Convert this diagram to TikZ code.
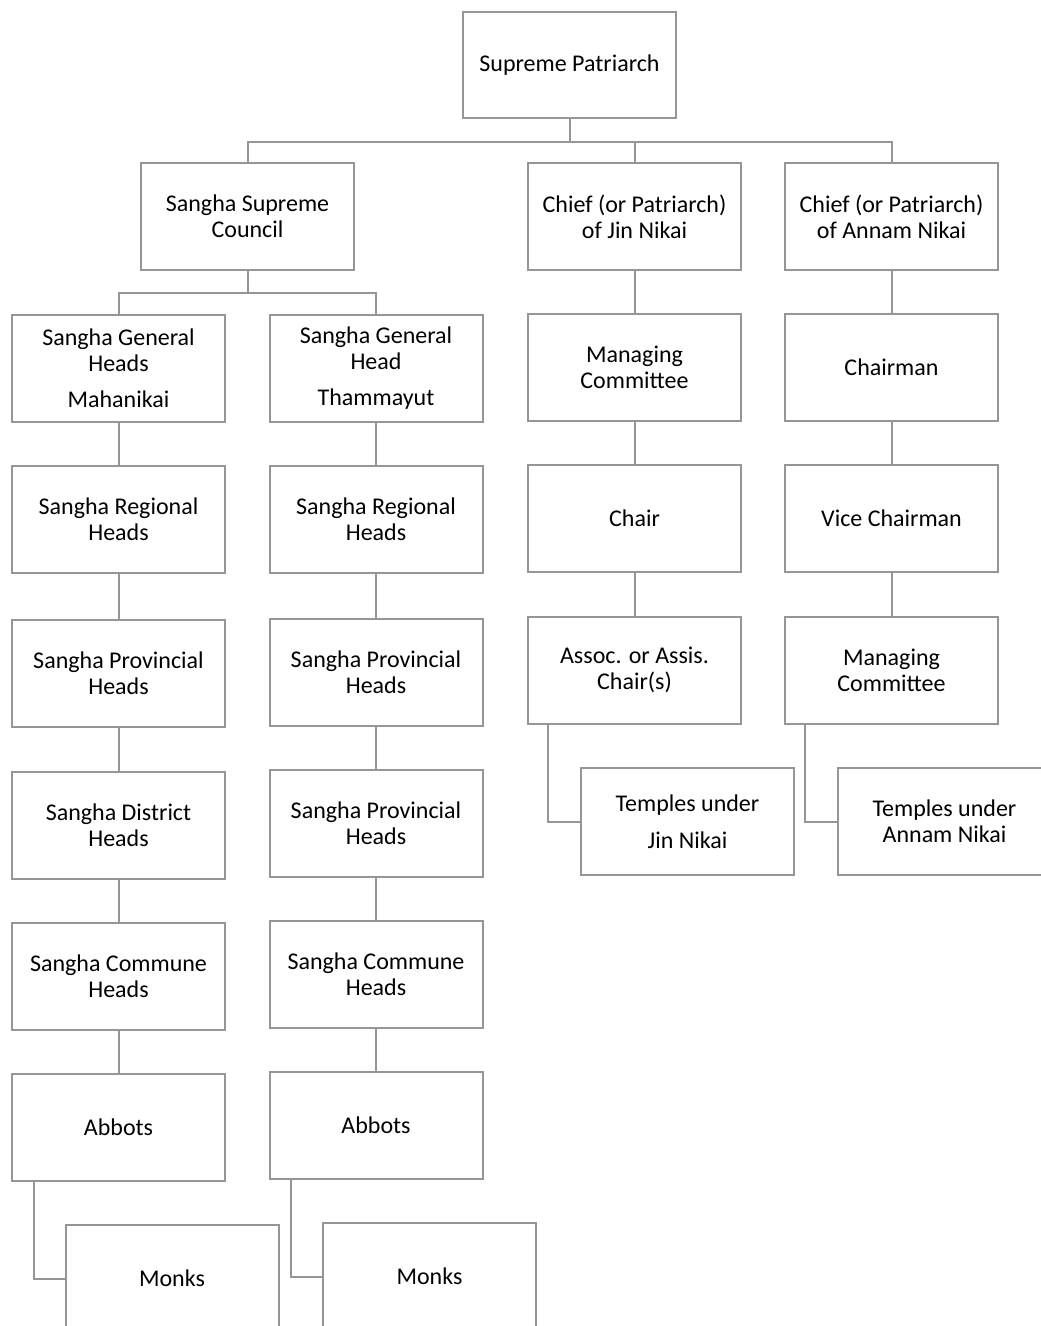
\documentclass[tikz,border=0pt]{standalone}
\usepackage{fontspec}
\setmainfont{Carlito}
\definecolor{boxgray}{RGB}{150,150,150}
\begin{document}
\begin{tikzpicture}[x=1pt,y=-1pt,
  box/.style={draw=boxgray,line width=2pt,minimum width=213pt,minimum height=107pt,inner sep=0pt,align=center,fill=white,font=\fontsize{24}{26}\selectfont},
  conn/.style={draw=boxgray,line width=2pt}]
\useasboundingbox (0,0) rectangle (1041,1326);
\clip (0,0) rectangle (1041,1326);
% top
\node[box,minimum height=106pt] (sp) at (569.5,65) {Supreme Patriarch};
\node[box] (ssc) at (247.5,216.5) {Sangha Supreme\\Council};
\node[box] (jin) at (634.5,216.5) {Chief (or Patriarch)\\of Jin Nikai};
\node[box] (ann) at (891.5,216.5) {Chief (or Patriarch)\\of Annam Nikai};
% left column
\node[box] (gm) at (118.5,368) {Sangha General\\Heads\\[10pt]Mahanikai};
\node[box] (rm) at (118.5,519) {Sangha Regional\\Heads};
\node[box] (pm) at (118.5,673) {Sangha Provincial\\Heads};
\node[box] (dm) at (118.5,825) {Sangha District\\Heads};
\node[box] (cm) at (118.5,976) {Sangha Commune\\Heads};
\node[box] (am) at (118.5,1127.5) {Abbots};
\node[box] (mm) at (172,1278.5) {Monks};
% second column
\node[box] (gt) at (376,368) {Sangha General\\Head\\[10pt]Thammayut};
\node[box] (rt) at (376,519) {Sangha Regional\\Heads};
\node[box] (pt) at (376,672) {Sangha Provincial\\Heads};
\node[box] (p2t) at (376,823) {Sangha Provincial\\Heads};
\node[box] (ct) at (376,974) {Sangha Commune\\Heads};
\node[box] (at) at (376,1125) {Abbots};
\node[box] (mt) at (429.5,1276.5) {Monks};
% Jin Nikai column
\node[box] (jmc) at (634.5,367.5) {Managing\\Committee};
\node[box] (jch) at (634.5,518.5) {Chair};
\node[box] (jas) at (634.5,670) {Assoc. or Assis.\\Chair(s)};
\node[box] (jte) at (687.5,821.5) {Temples under\\[11pt]Jin Nikai};
% Annam Nikai column
\node[box] (ach) at (891.5,367.5) {Chairman};
\node[box] (avc) at (891.5,518.5) {Vice Chairman};
\node[box] (amc) at (891.5,670) {Managing\\Committee};
\node[box] (ate) at (944.5,821.5) {Temples under\\Annam Nikai};
% connectors
\draw[conn] (sp.south) -- ++(0,23) coordinate (bus);
\draw[conn] (ssc.north) |- (bus) -| (ann.north);
\draw[conn] (jin.north) -- (jin.north |- bus);
\draw[conn] (ssc.south) -- ++(0,22) coordinate (bus2);
\draw[conn] (gm.north) |- (bus2) -| (gt.north);
\draw[conn] (gm) -- (rm) (rm) -- (pm) (pm) -- (dm) (dm) -- (cm) (cm) -- (am);
\draw[conn] (gt) -- (rt) (rt) -- (pt) (pt) -- (p2t) (p2t) -- (ct) (ct) -- (at);
\draw[conn] (jin) -- (jmc) (jmc) -- (jch) (jch) -- (jas);
\draw[conn] (ann) -- (ach) (ach) -- (avc) (avc) -- (amc);
\draw[conn] ([xshift=23pt]am.south west) |- (mm.west);
\draw[conn] ([xshift=22pt]at.south west) |- (mt.west);
\draw[conn] ([xshift=21pt]jas.south west) |- (jte.west);
\draw[conn] ([xshift=21pt]amc.south west) |- (ate.west);
\end{tikzpicture}
\end{document}
